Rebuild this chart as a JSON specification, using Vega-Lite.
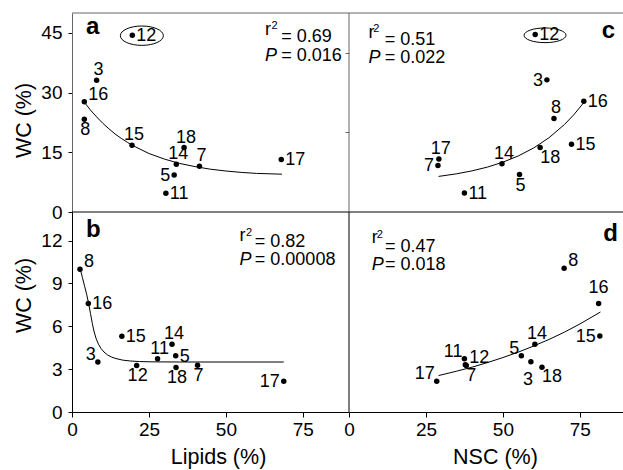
{
"$schema":"https://vega.github.io/schema/vega-lite/v6.json",
"width":551,"height":399,
"autosize":{"type":"none"},
"padding":{"left":72,"top":13,"right":0,"bottom":58},
"background":"white",
"config":{"font":"Liberation Sans","view":{"stroke":null},
"axis":{"labelFontSize":19,"titleFontSize":21.5,"titleFontWeight":"normal","labelColor":"black","titleColor":"black","tickColor":"black","domainColor":"black","grid":false,"labelFlush":false,"tickWidth":1,"domainWidth":1},
"text":{"color":"black"}},
"datasets":{
"pts":[
{"p":"a","id":"12","x":19.6,"y":44.4,"pos":"R"},
{"p":"a","id":"3","x":8.0,"y":33.1,"pos":"T"},
{"p":"a","id":"16","x":4.0,"y":27.7,"pos":"TR"},
{"p":"a","id":"8","x":4.0,"y":23.3,"pos":"B"},
{"p":"a","id":"15","x":19.5,"y":16.8,"pos":"T"},
{"p":"a","id":"18","x":36.4,"y":16.2,"pos":"T"},
{"p":"a","id":"14","x":33.9,"y":12.0,"pos":"T"},
{"p":"a","id":"7","x":41.4,"y":11.5,"pos":"T"},
{"p":"a","id":"5","x":33.2,"y":9.3,"pos":"L"},
{"p":"a","id":"11","x":30.5,"y":4.7,"pos":"R"},
{"p":"a","id":"17","x":68.0,"y":13.2,"pos":"R"},
{"p":"b","id":"8","x":2.6,"y":10.0,"pos":"TR"},
{"p":"b","id":"16","x":5.3,"y":7.6,"pos":"R"},
{"p":"b","id":"15","x":16.2,"y":5.3,"pos":"R"},
{"p":"b","id":"14","x":32.5,"y":4.75,"pos":"T"},
{"p":"b","id":"11","x":27.8,"y":3.73,"pos":"T"},
{"p":"b","id":"5","x":33.7,"y":3.94,"pos":"R"},
{"p":"b","id":"3","x":8.4,"y":3.5,"pos":"TL"},
{"p":"b","id":"12","x":21.0,"y":3.26,"pos":"B"},
{"p":"b","id":"18","x":33.8,"y":3.12,"pos":"B"},
{"p":"b","id":"7","x":40.8,"y":3.28,"pos":"B"},
{"p":"b","id":"17","x":68.8,"y":2.15,"pos":"L"},
{"p":"c","id":"12","x":60.5,"y":44.6,"pos":"R"},
{"p":"c","id":"3","x":64.3,"y":33.2,"pos":"L"},
{"p":"c","id":"16","x":76.3,"y":27.8,"pos":"R"},
{"p":"c","id":"8","x":66.6,"y":23.5,"pos":"T"},
{"p":"c","id":"15","x":72.3,"y":17.0,"pos":"R"},
{"p":"c","id":"18","x":62.1,"y":16.2,"pos":"BR"},
{"p":"c","id":"14","x":49.7,"y":12.1,"pos":"T"},
{"p":"c","id":"17","x":29.2,"y":13.3,"pos":"T"},
{"p":"c","id":"7","x":28.9,"y":11.7,"pos":"L"},
{"p":"c","id":"5","x":55.4,"y":9.4,"pos":"B"},
{"p":"c","id":"11","x":37.5,"y":4.75,"pos":"R"},
{"p":"d","id":"8","x":69.9,"y":10.06,"pos":"TR"},
{"p":"d","id":"16","x":81.1,"y":7.6,"pos":"TT"},
{"p":"d","id":"15","x":81.5,"y":5.32,"pos":"L"},
{"p":"d","id":"14","x":60.4,"y":4.75,"pos":"T"},
{"p":"d","id":"5","x":56.0,"y":3.94,"pos":"TL"},
{"p":"d","id":"3","x":59.1,"y":3.52,"pos":"BB"},
{"p":"d","id":"18","x":62.7,"y":3.14,"pos":"BR"},
{"p":"d","id":"11","x":37.5,"y":3.73,"pos":"TL"},
{"p":"d","id":"12","x":37.8,"y":3.3,"pos":"TR"},
{"p":"d","id":"7","x":38.1,"y":3.25,"pos":"BR"},
{"p":"d","id":"17","x":28.5,"y":2.15,"pos":"TL"}
],
"fit":[
{"p":"a","x":4,"y":27.6},{"p":"a","x":6,"y":25.6},{"p":"a","x":8,"y":23.9},{"p":"a","x":10,"y":22.3},{"p":"a","x":12,"y":20.9},{"p":"a","x":14,"y":19.6},{"p":"a","x":16,"y":18.5},{"p":"a","x":18,"y":17.5},{"p":"a","x":20,"y":16.6},{"p":"a","x":25,"y":14.7},{"p":"a","x":30,"y":13.3},{"p":"a","x":35,"y":12.2},{"p":"a","x":40,"y":11.4},{"p":"a","x":45,"y":10.75},{"p":"a","x":50,"y":10.3},{"p":"a","x":55,"y":9.95},{"p":"a","x":60,"y":9.7},{"p":"a","x":68.2,"y":9.5},
{"p":"b","x":2.7,"y":10.0},{"p":"b","x":3.4,"y":9.4},{"p":"b","x":4.1,"y":8.8},{"p":"b","x":4.8,"y":8.2},{"p":"b","x":5.4,"y":7.6},{"p":"b","x":6.0,"y":6.9},{"p":"b","x":6.6,"y":6.2},{"p":"b","x":7.2,"y":5.6},{"p":"b","x":7.9,"y":5.1},{"p":"b","x":8.6,"y":4.75},{"p":"b","x":9.4,"y":4.45},{"p":"b","x":10.4,"y":4.2},{"p":"b","x":11.5,"y":4.0},{"p":"b","x":12.8,"y":3.85},{"p":"b","x":14.3,"y":3.74},{"p":"b","x":16.5,"y":3.63},{"p":"b","x":19,"y":3.57},{"p":"b","x":22,"y":3.53},{"p":"b","x":26,"y":3.51},{"p":"b","x":35,"y":3.5},{"p":"b","x":68.8,"y":3.5},
{"p":"c","x":29.1,"y":8.94},{"p":"c","x":35,"y":9.6},{"p":"c","x":40,"y":10.34},{"p":"c","x":45,"y":11.29},{"p":"c","x":50,"y":12.51},{"p":"c","x":55,"y":14.08},{"p":"c","x":60,"y":16.09},{"p":"c","x":65,"y":18.67},{"p":"c","x":70,"y":21.98},{"p":"c","x":73,"y":24.4},{"p":"c","x":76.3,"y":27.5},
{"p":"d","x":29.1,"y":2.55},{"p":"d","x":35,"y":2.86},{"p":"d","x":40,"y":3.14},{"p":"d","x":45,"y":3.46},{"p":"d","x":50,"y":3.81},{"p":"d","x":55,"y":4.19},{"p":"d","x":60,"y":4.62},{"p":"d","x":65,"y":5.08},{"p":"d","x":70,"y":5.59},{"p":"d","x":75,"y":6.16},{"p":"d","x":81.7,"y":7.0}
],
"ring":[{"p":"a","x":22.7,"y":44.3},{"p":"c","x":63.7,"y":44.4}],
"note":[
{"p":"a","k":"L","t":"a","x":4.55,"y":44.6},
{"p":"a","k":"r","t":"r","x":62.7,"y":44.5},
{"p":"a","k":"s","t":"2","x":64.8,"y":46.0},
{"p":"a","k":"v","t":"= 0.69","x":68.0,"y":42.8},
{"p":"a","k":"P","t":"P","x":62.7,"y":38.0},
{"p":"a","k":"v","t":"= 0.016","x":68.0,"y":38.0},
{"p":"b","k":"L","t":"b","x":4.55,"y":12.23},
{"p":"b","k":"r","t":"r","x":54.4,"y":11.97},
{"p":"b","k":"s","t":"2","x":56.5,"y":12.3},
{"p":"b","k":"v","t":"= 0.82","x":59.4,"y":11.57},
{"p":"b","k":"P","t":"P","x":54.4,"y":10.29},
{"p":"b","k":"v","t":"= 0.00008","x":59.4,"y":10.29},
{"p":"c","k":"L","t":"c","x":82.1,"y":43.6},
{"p":"c","k":"r","t":"r","x":6.3,"y":43.6},
{"p":"c","k":"s","t":"2","x":7.9,"y":45.3},
{"p":"c","k":"v","t":"= 0.51","x":11.6,"y":42.0},
{"p":"c","k":"P","t":"P","x":6.3,"y":37.4},
{"p":"c","k":"v","t":"= 0.022","x":11.6,"y":37.4},
{"p":"d","k":"L","t":"d","x":82.6,"y":11.99},
{"p":"d","k":"r","t":"r","x":7.4,"y":11.8},
{"p":"d","k":"s","t":"2","x":9.0,"y":12.2},
{"p":"d","k":"v","t":"= 0.47","x":11.7,"y":11.2},
{"p":"d","k":"P","t":"P","x":7.4,"y":9.94},
{"p":"d","k":"v","t":"= 0.018","x":11.7,"y":9.94}
]
},
"resolve":{"scale":{"x":"independent","y":"independent"},"axis":{"x":"independent","y":"independent"}},
"layer":[
{"layer":[
{"data":{"name":"pts"},"transform":[{"filter":"datum.p=='a'"}],"mark":{"type":"circle","color":"black","size":30,"opacity":1},"encoding":{"x":{"field":"x","type":"quantitative","scale":{"domain":[0,90],"range":[0,277],"nice":false,"zero":false},"axis":null},"y":{"field":"y","type":"quantitative","scale":{"domain":[0,50],"range":[199,0],"nice":false,"zero":false},"axis":{"orient":"left","values":[0,15,30,45],"title":"WC (%)","titleX":-42,"titleY":107,"titleAngle":-90,"titleAlign":"center","titleBaseline":"alphabetic","tickSize":4,"labelPadding":6,"domainColor":"#666"}}}},
{"data":{"values":[{}]},"mark":{"type":"rule","color":"#666","strokeWidth":1},"encoding":{"y":{"datum":50,"type":"quantitative","scale":{"domain":[0,50],"range":[199,0],"nice":false,"zero":false}}}},
{"data":{"values":[{}]},"mark":{"type":"rule","color":"black","strokeWidth":1},"encoding":{"y":{"datum":0,"type":"quantitative","scale":{"domain":[0,50],"range":[199,0],"nice":false,"zero":false}}}},
{"data":{"values":[{}]},"mark":{"type":"rule","color":"#666","strokeWidth":1},"encoding":{"x":{"datum":90,"type":"quantitative","scale":{"domain":[0,90],"range":[0,277],"nice":false,"zero":false},"axis":null},"y":{"datum":0,"type":"quantitative","scale":{"domain":[0,50],"range":[199,0],"nice":false,"zero":false}},"y2":{"datum":50}}},
{"data":{"name":"fit"},"transform":[{"filter":"datum.p=='a'"}],"mark":{"type":"line","color":"black","strokeWidth":1},"encoding":{"x":{"field":"x","type":"quantitative","scale":{"domain":[0,90],"range":[0,277],"nice":false,"zero":false},"axis":null},"y":{"field":"y","type":"quantitative","scale":{"domain":[0,50],"range":[199,0],"nice":false,"zero":false}}}},
{"data":{"name":"ring"},"transform":[{"filter":"datum.p=='a'"}],"mark":{"type":"point","shape":"M -1 0 A 1 0.45 0 1 1 1 0 A 1 0.45 0 1 1 -1 0 Z","size":1849,"filled":false,"color":"black","strokeWidth":1,"opacity":1},"encoding":{"x":{"field":"x","type":"quantitative","scale":{"domain":[0,90],"range":[0,277],"nice":false,"zero":false},"axis":null},"y":{"field":"y","type":"quantitative","scale":{"domain":[0,50],"range":[199,0],"nice":false,"zero":false}}}},
{"data":{"name":"pts"},"transform":[{"filter":"datum.p=='a' && datum.pos=='R'"}],"mark":{"type":"text","align":"left","baseline":"middle","dx":4,"dy":1,"fontSize":18},"encoding":{"x":{"field":"x","type":"quantitative","scale":{"domain":[0,90],"range":[0,277],"nice":false,"zero":false},"axis":null},"y":{"field":"y","type":"quantitative","scale":{"domain":[0,50],"range":[199,0],"nice":false,"zero":false}},"text":{"field":"id"}}},
{"data":{"name":"pts"},"transform":[{"filter":"datum.p=='a' && datum.pos=='L'"}],"mark":{"type":"text","align":"right","baseline":"middle","dx":-4,"dy":1,"fontSize":18},"encoding":{"x":{"field":"x","type":"quantitative","scale":{"domain":[0,90],"range":[0,277],"nice":false,"zero":false},"axis":null},"y":{"field":"y","type":"quantitative","scale":{"domain":[0,50],"range":[199,0],"nice":false,"zero":false}},"text":{"field":"id"}}},
{"data":{"name":"pts"},"transform":[{"filter":"datum.p=='a' && datum.pos=='T'"}],"mark":{"type":"text","align":"center","baseline":"alphabetic","dx":2,"dy":-5,"fontSize":18},"encoding":{"x":{"field":"x","type":"quantitative","scale":{"domain":[0,90],"range":[0,277],"nice":false,"zero":false},"axis":null},"y":{"field":"y","type":"quantitative","scale":{"domain":[0,50],"range":[199,0],"nice":false,"zero":false}},"text":{"field":"id"}}},
{"data":{"name":"pts"},"transform":[{"filter":"datum.p=='a' && datum.pos=='TR'"}],"mark":{"type":"text","align":"left","baseline":"alphabetic","dx":4,"dy":-2,"fontSize":18},"encoding":{"x":{"field":"x","type":"quantitative","scale":{"domain":[0,90],"range":[0,277],"nice":false,"zero":false},"axis":null},"y":{"field":"y","type":"quantitative","scale":{"domain":[0,50],"range":[199,0],"nice":false,"zero":false}},"text":{"field":"id"}}},
{"data":{"name":"pts"},"transform":[{"filter":"datum.p=='a' && datum.pos=='B'"}],"mark":{"type":"text","align":"center","baseline":"top","dx":1,"dy":2,"fontSize":18},"encoding":{"x":{"field":"x","type":"quantitative","scale":{"domain":[0,90],"range":[0,277],"nice":false,"zero":false},"axis":null},"y":{"field":"y","type":"quantitative","scale":{"domain":[0,50],"range":[199,0],"nice":false,"zero":false}},"text":{"field":"id"}}},
{"data":{"name":"note"},"transform":[{"filter":"datum.p=='a' && (datum.k=='r' || datum.k=='v')"}],"mark":{"type":"text","align":"left","baseline":"alphabetic","fontSize":18},"encoding":{"x":{"field":"x","type":"quantitative","scale":{"domain":[0,90],"range":[0,277],"nice":false,"zero":false},"axis":null},"y":{"field":"y","type":"quantitative","scale":{"domain":[0,50],"range":[199,0],"nice":false,"zero":false}},"text":{"field":"t"}}},
{"data":{"name":"note"},"transform":[{"filter":"datum.p=='a' && datum.k=='s'"}],"mark":{"type":"text","align":"left","baseline":"alphabetic","fontSize":11},"encoding":{"x":{"field":"x","type":"quantitative","scale":{"domain":[0,90],"range":[0,277],"nice":false,"zero":false},"axis":null},"y":{"field":"y","type":"quantitative","scale":{"domain":[0,50],"range":[199,0],"nice":false,"zero":false}},"text":{"field":"t"}}},
{"data":{"name":"note"},"transform":[{"filter":"datum.p=='a' && datum.k=='P'"}],"mark":{"type":"text","align":"left","baseline":"alphabetic","fontSize":18,"fontStyle":"italic"},"encoding":{"x":{"field":"x","type":"quantitative","scale":{"domain":[0,90],"range":[0,277],"nice":false,"zero":false},"axis":null},"y":{"field":"y","type":"quantitative","scale":{"domain":[0,50],"range":[199,0],"nice":false,"zero":false}},"text":{"field":"t"}}},
{"data":{"name":"note"},"transform":[{"filter":"datum.p=='a' && datum.k=='L'"}],"mark":{"type":"text","align":"left","baseline":"alphabetic","fontSize":24,"fontWeight":"bold"},"encoding":{"x":{"field":"x","type":"quantitative","scale":{"domain":[0,90],"range":[0,277],"nice":false,"zero":false},"axis":null},"y":{"field":"y","type":"quantitative","scale":{"domain":[0,50],"range":[199,0],"nice":false,"zero":false}},"text":{"field":"t"}}}
]},
{"layer":[
{"data":{"name":"pts"},"transform":[{"filter":"datum.p=='b'"}],"mark":{"type":"circle","color":"black","size":30,"opacity":1},"encoding":{"x":{"field":"x","type":"quantitative","scale":{"domain":[0,90],"range":[0,277],"nice":false,"zero":false},"axis":{"orient":"bottom","values":[0,25,50,75],"title":"Lipids (%)","titleX":146,"titleY":51,"titleAngle":0,"titleAlign":"center","titleBaseline":"alphabetic","tickSize":5,"labelPadding":3}},"y":{"field":"y","type":"quantitative","scale":{"domain":[0,14],"range":[399,199],"nice":false,"zero":false},"axis":{"orient":"left","values":[0,3,6,9,12],"title":"WC (%)","titleX":-42,"titleY":282,"titleAngle":-90,"titleAlign":"center","titleBaseline":"alphabetic","tickSize":4,"labelPadding":6}}}},
{"data":{"values":[{}]},"mark":{"type":"rule","color":"black","strokeWidth":1},"encoding":{"x":{"datum":90,"type":"quantitative","scale":{"domain":[0,90],"range":[0,277],"nice":false,"zero":false}},"y":{"datum":0,"type":"quantitative","scale":{"domain":[0,14],"range":[399,199],"nice":false,"zero":false}},"y2":{"datum":14}}},
{"data":{"name":"fit"},"transform":[{"filter":"datum.p=='b'"}],"mark":{"type":"line","color":"black","strokeWidth":1},"encoding":{"x":{"field":"x","type":"quantitative","scale":{"domain":[0,90],"range":[0,277],"nice":false,"zero":false}},"y":{"field":"y","type":"quantitative","scale":{"domain":[0,14],"range":[399,199],"nice":false,"zero":false}}}},
{"data":{"name":"pts"},"transform":[{"filter":"datum.p=='b' && datum.pos=='R'"}],"mark":{"type":"text","align":"left","baseline":"middle","dx":4,"dy":1,"fontSize":18},"encoding":{"x":{"field":"x","type":"quantitative","scale":{"domain":[0,90],"range":[0,277],"nice":false,"zero":false}},"y":{"field":"y","type":"quantitative","scale":{"domain":[0,14],"range":[399,199],"nice":false,"zero":false}},"text":{"field":"id"}}},
{"data":{"name":"pts"},"transform":[{"filter":"datum.p=='b' && datum.pos=='L'"}],"mark":{"type":"text","align":"right","baseline":"middle","dx":-4,"dy":1,"fontSize":18},"encoding":{"x":{"field":"x","type":"quantitative","scale":{"domain":[0,90],"range":[0,277],"nice":false,"zero":false}},"y":{"field":"y","type":"quantitative","scale":{"domain":[0,14],"range":[399,199],"nice":false,"zero":false}},"text":{"field":"id"}}},
{"data":{"name":"pts"},"transform":[{"filter":"datum.p=='b' && datum.pos=='T'"}],"mark":{"type":"text","align":"center","baseline":"alphabetic","dx":2,"dy":-5,"fontSize":18},"encoding":{"x":{"field":"x","type":"quantitative","scale":{"domain":[0,90],"range":[0,277],"nice":false,"zero":false}},"y":{"field":"y","type":"quantitative","scale":{"domain":[0,14],"range":[399,199],"nice":false,"zero":false}},"text":{"field":"id"}}},
{"data":{"name":"pts"},"transform":[{"filter":"datum.p=='b' && datum.pos=='TR'"}],"mark":{"type":"text","align":"left","baseline":"alphabetic","dx":4,"dy":-2,"fontSize":18},"encoding":{"x":{"field":"x","type":"quantitative","scale":{"domain":[0,90],"range":[0,277],"nice":false,"zero":false}},"y":{"field":"y","type":"quantitative","scale":{"domain":[0,14],"range":[399,199],"nice":false,"zero":false}},"text":{"field":"id"}}},
{"data":{"name":"pts"},"transform":[{"filter":"datum.p=='b' && datum.pos=='TL'"}],"mark":{"type":"text","align":"right","baseline":"alphabetic","dx":-2,"dy":-2,"fontSize":18},"encoding":{"x":{"field":"x","type":"quantitative","scale":{"domain":[0,90],"range":[0,277],"nice":false,"zero":false}},"y":{"field":"y","type":"quantitative","scale":{"domain":[0,14],"range":[399,199],"nice":false,"zero":false}},"text":{"field":"id"}}},
{"data":{"name":"pts"},"transform":[{"filter":"datum.p=='b' && datum.pos=='B'"}],"mark":{"type":"text","align":"center","baseline":"top","dx":1,"dy":2,"fontSize":18},"encoding":{"x":{"field":"x","type":"quantitative","scale":{"domain":[0,90],"range":[0,277],"nice":false,"zero":false}},"y":{"field":"y","type":"quantitative","scale":{"domain":[0,14],"range":[399,199],"nice":false,"zero":false}},"text":{"field":"id"}}},
{"data":{"name":"note"},"transform":[{"filter":"datum.p=='b' && (datum.k=='r' || datum.k=='v')"}],"mark":{"type":"text","align":"left","baseline":"alphabetic","fontSize":18},"encoding":{"x":{"field":"x","type":"quantitative","scale":{"domain":[0,90],"range":[0,277],"nice":false,"zero":false}},"y":{"field":"y","type":"quantitative","scale":{"domain":[0,14],"range":[399,199],"nice":false,"zero":false}},"text":{"field":"t"}}},
{"data":{"name":"note"},"transform":[{"filter":"datum.p=='b' && datum.k=='s'"}],"mark":{"type":"text","align":"left","baseline":"alphabetic","fontSize":11},"encoding":{"x":{"field":"x","type":"quantitative","scale":{"domain":[0,90],"range":[0,277],"nice":false,"zero":false}},"y":{"field":"y","type":"quantitative","scale":{"domain":[0,14],"range":[399,199],"nice":false,"zero":false}},"text":{"field":"t"}}},
{"data":{"name":"note"},"transform":[{"filter":"datum.p=='b' && datum.k=='P'"}],"mark":{"type":"text","align":"left","baseline":"alphabetic","fontSize":18,"fontStyle":"italic"},"encoding":{"x":{"field":"x","type":"quantitative","scale":{"domain":[0,90],"range":[0,277],"nice":false,"zero":false}},"y":{"field":"y","type":"quantitative","scale":{"domain":[0,14],"range":[399,199],"nice":false,"zero":false}},"text":{"field":"t"}}},
{"data":{"name":"note"},"transform":[{"filter":"datum.p=='b' && datum.k=='L'"}],"mark":{"type":"text","align":"left","baseline":"alphabetic","fontSize":24,"fontWeight":"bold"},"encoding":{"x":{"field":"x","type":"quantitative","scale":{"domain":[0,90],"range":[0,277],"nice":false,"zero":false}},"y":{"field":"y","type":"quantitative","scale":{"domain":[0,14],"range":[399,199],"nice":false,"zero":false}},"text":{"field":"t"}}}
]},
{"layer":[
{"data":{"name":"pts"},"transform":[{"filter":"datum.p=='c'"}],"mark":{"type":"circle","color":"black","size":30,"opacity":1},"encoding":{"x":{"field":"x","type":"quantitative","scale":{"domain":[0,90],"range":[277,554],"nice":false,"zero":false},"axis":null},"y":{"field":"y","type":"quantitative","scale":{"domain":[0,50],"range":[199,0],"nice":false,"zero":false},"axis":{"orient":"left","offset":-277,"values":[20,40],"labels":false,"domain":false,"tickSize":4,"title":null,"tickColor":"#666"}}}},
{"data":{"name":"fit"},"transform":[{"filter":"datum.p=='c'"}],"mark":{"type":"line","color":"black","strokeWidth":1},"encoding":{"x":{"field":"x","type":"quantitative","scale":{"domain":[0,90],"range":[277,554],"nice":false,"zero":false},"axis":null},"y":{"field":"y","type":"quantitative","scale":{"domain":[0,50],"range":[199,0],"nice":false,"zero":false}}}},
{"data":{"name":"ring"},"transform":[{"filter":"datum.p=='c'"}],"mark":{"type":"point","shape":"M -1 0 A 1 0.35 0 1 1 1 0 A 1 0.35 0 1 1 -1 0 Z","size":1764,"filled":false,"color":"black","strokeWidth":1,"opacity":1},"encoding":{"x":{"field":"x","type":"quantitative","scale":{"domain":[0,90],"range":[277,554],"nice":false,"zero":false},"axis":null},"y":{"field":"y","type":"quantitative","scale":{"domain":[0,50],"range":[199,0],"nice":false,"zero":false}}}},
{"data":{"name":"pts"},"transform":[{"filter":"datum.p=='c' && datum.pos=='R'"}],"mark":{"type":"text","align":"left","baseline":"middle","dx":4,"dy":1,"fontSize":18},"encoding":{"x":{"field":"x","type":"quantitative","scale":{"domain":[0,90],"range":[277,554],"nice":false,"zero":false},"axis":null},"y":{"field":"y","type":"quantitative","scale":{"domain":[0,50],"range":[199,0],"nice":false,"zero":false}},"text":{"field":"id"}}},
{"data":{"name":"pts"},"transform":[{"filter":"datum.p=='c' && datum.pos=='L'"}],"mark":{"type":"text","align":"right","baseline":"middle","dx":-4,"dy":1,"fontSize":18},"encoding":{"x":{"field":"x","type":"quantitative","scale":{"domain":[0,90],"range":[277,554],"nice":false,"zero":false},"axis":null},"y":{"field":"y","type":"quantitative","scale":{"domain":[0,50],"range":[199,0],"nice":false,"zero":false}},"text":{"field":"id"}}},
{"data":{"name":"pts"},"transform":[{"filter":"datum.p=='c' && datum.pos=='T'"}],"mark":{"type":"text","align":"center","baseline":"alphabetic","dx":2,"dy":-5,"fontSize":18},"encoding":{"x":{"field":"x","type":"quantitative","scale":{"domain":[0,90],"range":[277,554],"nice":false,"zero":false},"axis":null},"y":{"field":"y","type":"quantitative","scale":{"domain":[0,50],"range":[199,0],"nice":false,"zero":false}},"text":{"field":"id"}}},
{"data":{"name":"pts"},"transform":[{"filter":"datum.p=='c' && datum.pos=='BR'"}],"mark":{"type":"text","align":"left","baseline":"top","dx":0,"dy":1,"fontSize":18},"encoding":{"x":{"field":"x","type":"quantitative","scale":{"domain":[0,90],"range":[277,554],"nice":false,"zero":false},"axis":null},"y":{"field":"y","type":"quantitative","scale":{"domain":[0,50],"range":[199,0],"nice":false,"zero":false}},"text":{"field":"id"}}},
{"data":{"name":"pts"},"transform":[{"filter":"datum.p=='c' && datum.pos=='B'"}],"mark":{"type":"text","align":"center","baseline":"top","dx":1,"dy":2,"fontSize":18},"encoding":{"x":{"field":"x","type":"quantitative","scale":{"domain":[0,90],"range":[277,554],"nice":false,"zero":false},"axis":null},"y":{"field":"y","type":"quantitative","scale":{"domain":[0,50],"range":[199,0],"nice":false,"zero":false}},"text":{"field":"id"}}},
{"data":{"name":"note"},"transform":[{"filter":"datum.p=='c' && (datum.k=='r' || datum.k=='v')"}],"mark":{"type":"text","align":"left","baseline":"alphabetic","fontSize":18},"encoding":{"x":{"field":"x","type":"quantitative","scale":{"domain":[0,90],"range":[277,554],"nice":false,"zero":false},"axis":null},"y":{"field":"y","type":"quantitative","scale":{"domain":[0,50],"range":[199,0],"nice":false,"zero":false}},"text":{"field":"t"}}},
{"data":{"name":"note"},"transform":[{"filter":"datum.p=='c' && datum.k=='s'"}],"mark":{"type":"text","align":"left","baseline":"alphabetic","fontSize":11},"encoding":{"x":{"field":"x","type":"quantitative","scale":{"domain":[0,90],"range":[277,554],"nice":false,"zero":false},"axis":null},"y":{"field":"y","type":"quantitative","scale":{"domain":[0,50],"range":[199,0],"nice":false,"zero":false}},"text":{"field":"t"}}},
{"data":{"name":"note"},"transform":[{"filter":"datum.p=='c' && datum.k=='P'"}],"mark":{"type":"text","align":"left","baseline":"alphabetic","fontSize":18,"fontStyle":"italic"},"encoding":{"x":{"field":"x","type":"quantitative","scale":{"domain":[0,90],"range":[277,554],"nice":false,"zero":false},"axis":null},"y":{"field":"y","type":"quantitative","scale":{"domain":[0,50],"range":[199,0],"nice":false,"zero":false}},"text":{"field":"t"}}},
{"data":{"name":"note"},"transform":[{"filter":"datum.p=='c' && datum.k=='L'"}],"mark":{"type":"text","align":"left","baseline":"alphabetic","fontSize":24,"fontWeight":"bold"},"encoding":{"x":{"field":"x","type":"quantitative","scale":{"domain":[0,90],"range":[277,554],"nice":false,"zero":false},"axis":null},"y":{"field":"y","type":"quantitative","scale":{"domain":[0,50],"range":[199,0],"nice":false,"zero":false}},"text":{"field":"t"}}}
]},
{"layer":[
{"data":{"name":"pts"},"transform":[{"filter":"datum.p=='d'"}],"mark":{"type":"circle","color":"black","size":30,"opacity":1},"encoding":{"x":{"field":"x","type":"quantitative","scale":{"domain":[0,90],"range":[277,554],"nice":false,"zero":false},"axis":{"orient":"bottom","values":[0,25,50,75],"title":"NSC (%)","titleX":423,"titleY":51,"titleAngle":0,"titleAlign":"center","titleBaseline":"alphabetic","tickSize":5,"labelPadding":3}},"y":{"field":"y","type":"quantitative","scale":{"domain":[0,14],"range":[399,199],"nice":false,"zero":false},"axis":null}}},
{"data":{"name":"fit"},"transform":[{"filter":"datum.p=='d'"}],"mark":{"type":"line","color":"black","strokeWidth":1},"encoding":{"x":{"field":"x","type":"quantitative","scale":{"domain":[0,90],"range":[277,554],"nice":false,"zero":false}},"y":{"field":"y","type":"quantitative","scale":{"domain":[0,14],"range":[399,199],"nice":false,"zero":false},"axis":null}}},
{"data":{"name":"pts"},"transform":[{"filter":"datum.p=='d' && datum.pos=='TR'"}],"mark":{"type":"text","align":"left","baseline":"alphabetic","dx":4,"dy":-2,"fontSize":18},"encoding":{"x":{"field":"x","type":"quantitative","scale":{"domain":[0,90],"range":[277,554],"nice":false,"zero":false}},"y":{"field":"y","type":"quantitative","scale":{"domain":[0,14],"range":[399,199],"nice":false,"zero":false},"axis":null},"text":{"field":"id"}}},
{"data":{"name":"pts"},"transform":[{"filter":"datum.p=='d' && datum.pos=='TT'"}],"mark":{"type":"text","align":"center","baseline":"alphabetic","dx":0,"dy":-10,"fontSize":18},"encoding":{"x":{"field":"x","type":"quantitative","scale":{"domain":[0,90],"range":[277,554],"nice":false,"zero":false}},"y":{"field":"y","type":"quantitative","scale":{"domain":[0,14],"range":[399,199],"nice":false,"zero":false},"axis":null},"text":{"field":"id"}}},
{"data":{"name":"pts"},"transform":[{"filter":"datum.p=='d' && datum.pos=='L'"}],"mark":{"type":"text","align":"right","baseline":"middle","dx":-4,"dy":1,"fontSize":18},"encoding":{"x":{"field":"x","type":"quantitative","scale":{"domain":[0,90],"range":[277,554],"nice":false,"zero":false}},"y":{"field":"y","type":"quantitative","scale":{"domain":[0,14],"range":[399,199],"nice":false,"zero":false},"axis":null},"text":{"field":"id"}}},
{"data":{"name":"pts"},"transform":[{"filter":"datum.p=='d' && datum.pos=='T'"}],"mark":{"type":"text","align":"center","baseline":"alphabetic","dx":2,"dy":-5,"fontSize":18},"encoding":{"x":{"field":"x","type":"quantitative","scale":{"domain":[0,90],"range":[277,554],"nice":false,"zero":false}},"y":{"field":"y","type":"quantitative","scale":{"domain":[0,14],"range":[399,199],"nice":false,"zero":false},"axis":null},"text":{"field":"id"}}},
{"data":{"name":"pts"},"transform":[{"filter":"datum.p=='d' && datum.pos=='TL'"}],"mark":{"type":"text","align":"right","baseline":"alphabetic","dx":-2,"dy":-2,"fontSize":18},"encoding":{"x":{"field":"x","type":"quantitative","scale":{"domain":[0,90],"range":[277,554],"nice":false,"zero":false}},"y":{"field":"y","type":"quantitative","scale":{"domain":[0,14],"range":[399,199],"nice":false,"zero":false},"axis":null},"text":{"field":"id"}}},
{"data":{"name":"pts"},"transform":[{"filter":"datum.p=='d' && datum.pos=='BB'"}],"mark":{"type":"text","align":"center","baseline":"top","dx":-3,"dy":9,"fontSize":18},"encoding":{"x":{"field":"x","type":"quantitative","scale":{"domain":[0,90],"range":[277,554],"nice":false,"zero":false}},"y":{"field":"y","type":"quantitative","scale":{"domain":[0,14],"range":[399,199],"nice":false,"zero":false},"axis":null},"text":{"field":"id"}}},
{"data":{"name":"pts"},"transform":[{"filter":"datum.p=='d' && datum.pos=='BR'"}],"mark":{"type":"text","align":"left","baseline":"top","dx":0,"dy":1,"fontSize":18},"encoding":{"x":{"field":"x","type":"quantitative","scale":{"domain":[0,90],"range":[277,554],"nice":false,"zero":false}},"y":{"field":"y","type":"quantitative","scale":{"domain":[0,14],"range":[399,199],"nice":false,"zero":false},"axis":null},"text":{"field":"id"}}},
{"data":{"name":"note"},"transform":[{"filter":"datum.p=='d' && (datum.k=='r' || datum.k=='v')"}],"mark":{"type":"text","align":"left","baseline":"alphabetic","fontSize":18},"encoding":{"x":{"field":"x","type":"quantitative","scale":{"domain":[0,90],"range":[277,554],"nice":false,"zero":false}},"y":{"field":"y","type":"quantitative","scale":{"domain":[0,14],"range":[399,199],"nice":false,"zero":false},"axis":null},"text":{"field":"t"}}},
{"data":{"name":"note"},"transform":[{"filter":"datum.p=='d' && datum.k=='s'"}],"mark":{"type":"text","align":"left","baseline":"alphabetic","fontSize":11},"encoding":{"x":{"field":"x","type":"quantitative","scale":{"domain":[0,90],"range":[277,554],"nice":false,"zero":false}},"y":{"field":"y","type":"quantitative","scale":{"domain":[0,14],"range":[399,199],"nice":false,"zero":false},"axis":null},"text":{"field":"t"}}},
{"data":{"name":"note"},"transform":[{"filter":"datum.p=='d' && datum.k=='P'"}],"mark":{"type":"text","align":"left","baseline":"alphabetic","fontSize":18,"fontStyle":"italic"},"encoding":{"x":{"field":"x","type":"quantitative","scale":{"domain":[0,90],"range":[277,554],"nice":false,"zero":false}},"y":{"field":"y","type":"quantitative","scale":{"domain":[0,14],"range":[399,199],"nice":false,"zero":false},"axis":null},"text":{"field":"t"}}},
{"data":{"name":"note"},"transform":[{"filter":"datum.p=='d' && datum.k=='L'"}],"mark":{"type":"text","align":"left","baseline":"alphabetic","fontSize":24,"fontWeight":"bold"},"encoding":{"x":{"field":"x","type":"quantitative","scale":{"domain":[0,90],"range":[277,554],"nice":false,"zero":false}},"y":{"field":"y","type":"quantitative","scale":{"domain":[0,14],"range":[399,199],"nice":false,"zero":false},"axis":null},"text":{"field":"t"}}}
]}
]
}
